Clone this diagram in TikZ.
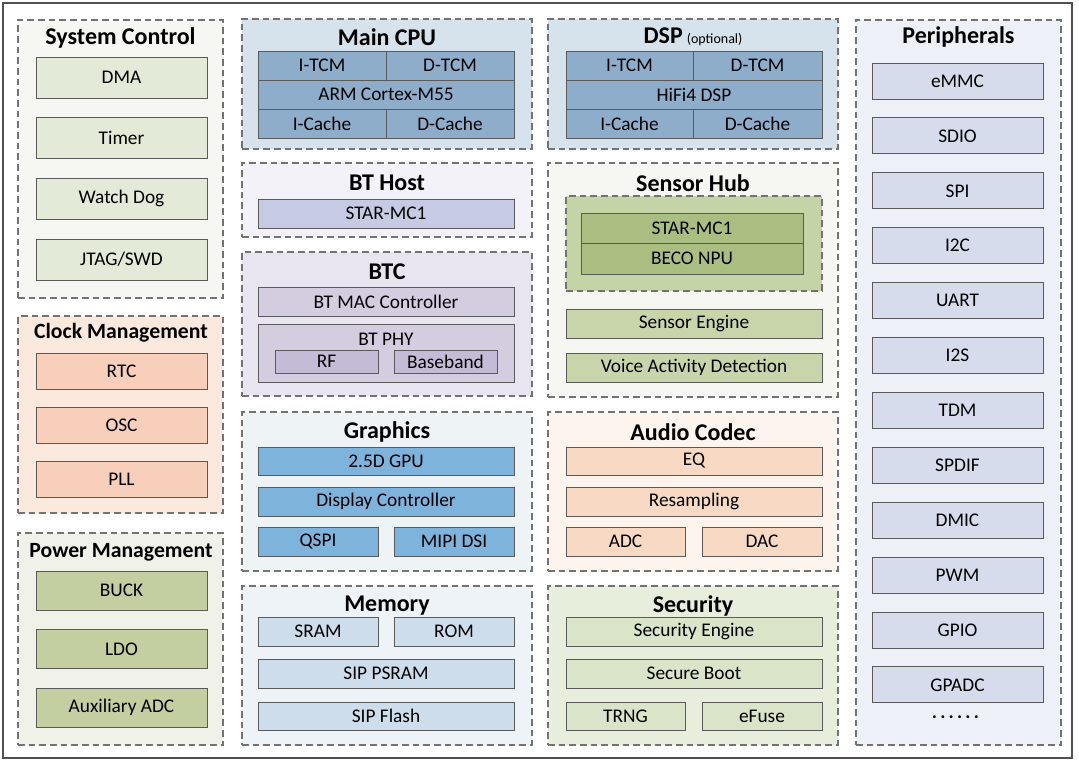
\documentclass[tikz,border=0pt]{standalone}
\usepackage{fontspec}
\setmainfont{Carlito}
\usepackage{tikz}
\usetikzlibrary{fit}
\definecolor{framegray}{RGB}{80,80,80}
\definecolor{dashgray}{RGB}{115,115,115}
\definecolor{boxgray}{RGB}{90,90,90}
\definecolor{scgrp}{RGB}{246,247,242}
\definecolor{scbox}{RGB}{227,234,216}
\definecolor{ckgrp}{RGB}{251,233,222}
\definecolor{ckbox}{RGB}{248,207,186}
\definecolor{pwgrp}{RGB}{240,242,234}
\definecolor{pwbox}{RGB}{196,207,161}
\definecolor{cpugrp}{RGB}{215,227,236}
\definecolor{cpubox}{RGB}{141,173,203}
\definecolor{hostgrp}{RGB}{242,242,248}
\definecolor{hostbox}{RGB}{198,203,227}
\definecolor{btcgrp}{RGB}{232,229,240}
\definecolor{btcbox}{RGB}{212,205,224}
\definecolor{phybox}{RGB}{196,187,214}
\definecolor{shgrp}{RGB}{246,247,242}
\definecolor{npugrp}{RGB}{196,212,166}
\definecolor{npubox}{RGB}{171,190,130}
\definecolor{shbox}{RGB}{200,213,171}
\definecolor{gfxgrp}{RGB}{238,243,246}
\definecolor{gfxbox}{RGB}{126,179,220}
\definecolor{audgrp}{RGB}{253,244,238}
\definecolor{audbox}{RGB}{248,218,196}
\definecolor{memgrp}{RGB}{238,243,248}
\definecolor{membox}{RGB}{206,221,236}
\definecolor{secgrp}{RGB}{231,238,219}
\definecolor{secbox}{RGB}{218,228,200}
\definecolor{pergrp}{RGB}{238,240,248}
\definecolor{perbox}{RGB}{214,220,236}

\begin{document}
\begin{tikzpicture}[x=0.75pt,y=-0.75pt,
  boxfont/.style={font=\fontsize{14.5}{16}\selectfont},
  grp/.style={draw=dashgray,line width=0.9pt,dash pattern=on 5pt off 3pt,inner sep=0pt},
  blk/.style={draw=boxgray,line width=0.7pt,inner sep=0pt,label={[boxfont,inner sep=0pt]center:#1}},
  txt/.style={boxfont,inner sep=0pt},
  ttl/.style={font=\fontsize{18}{20}\selectfont\bfseries,inner sep=0pt},
  ttlsm/.style={font=\fontsize{16.3}{18}\selectfont\bfseries,inner sep=0pt}]
\useasboundingbox (0,0) rectangle (1079,762);
\draw[framegray,line width=1.6pt] (3,3) rectangle (1072,758);

% column 1
\node[grp,fill=scgrp,fit={(18,20) (223,298)}] (sysctl) {};
\node[ttl] (sysctlt) at (120.5,38) {System Control};
\foreach \t [count=\i from 0] in {DMA,Timer,Watch Dog,JTAG/SWD}
  \node[blk=\t,fill=scbox,fit={(36,{57+\i*60.7}) (207,{98+\i*60.7})}] (sc\i) {};

\node[grp,fill=ckgrp,fit={(18,316) (223,513)}] (clk) {};
\node[ttlsm] (clkt) at (121,333) {Clock Management};
\foreach \t [count=\i from 0] in {RTC,OSC,PLL}
  \node[blk=\t,fill=ckbox,fit={(36,{353+\i*54.3}) (207,{389+\i*54.3})}] (ck\i) {};

\node[grp,fill=pwgrp,fit={(18,533) (223,745)}] (pwr) {};
\node[ttlsm] (pwrt) at (121,552) {Power Management};
\foreach \t [count=\i from 0] in {BUCK,LDO,Auxiliary ADC}
  \node[blk=\t,fill=pwbox,fit={(36,{571+\i*58.5}) (207,{610+\i*58.5})}] (pw\i) {};

% column 2
\node[grp,fill=cpugrp,fit={(242,19) (532,149)}] (cpu) {};
\node[ttl] (cput) at (387,37) {Main CPU};
\node[blk=I-TCM,fill=cpubox,fit={(258,51) (386,80)}] (itcm) {};
\node[blk=D-TCM,fill=cpubox,fit={(386,51) (514,80)}] (dtcm) {};
\node[blk=ARM Cortex-M55,fill=cpubox,fit={(258,80) (514,109)}] (m55) {};
\node[blk=I-Cache,fill=cpubox,fit={(258,109) (386,138)}] (icache) {};
\node[blk=D-Cache,fill=cpubox,fit={(386,109) (514,138)}] (dcache) {};

\node[grp,fill=hostgrp,fit={(242,163) (532,237)}] (host) {};
\node[ttl] (hostt) at (387,183) {BT Host};
\node[blk=STAR-MC1,fill=hostbox,fit={(258,199) (514,228)}] (hostmc) {};

\node[grp,fill=btcgrp,fit={(242,252) (532,396)}] (btc) {};
\node[ttl] (btct) at (387,272) {BTC};
\node[blk=BT MAC Controller,fill=btcbox,fit={(258,287) (514,316)}] (btmac) {};
\node[blk=,fill=btcbox,fit={(258,324) (514,382)}] (btphy) {};
\node[txt] (btphyt) at (386,339) {BT PHY};
\node[blk=RF,fill=phybox,fit={(275,350) (378,373)}] (rf) {};
\node[blk=Baseband,fill=phybox,fit={(394,350) (497,373)}] (bband) {};

\node[grp,fill=gfxgrp,fit={(242,412) (532,571)}] (gfx) {};
\node[ttl] (gfxt) at (387,432) {Graphics};
\node[blk=2.5D GPU,fill=gfxbox,fit={(258,447) (514,475)}] (gpu) {};
\node[blk=Display Controller,fill=gfxbox,fit={(258,487) (514,516)}] (disp) {};
\node[blk=QSPI,fill=gfxbox,fit={(258,527) (378,556)}] (qspi) {};
\node[blk=MIPI DSI,fill=gfxbox,fit={(394,527) (514,556)}] (mipi) {};

\node[grp,fill=memgrp,fit={(242,586) (532,745)}] (mem) {};
\node[ttl] (memt) at (387,606) {Memory};
\node[blk=SRAM,fill=membox,fit={(258,617) (378,646)}] (sram) {};
\node[blk=ROM,fill=membox,fit={(394,617) (514,646)}] (rom) {};
\node[blk=SIP PSRAM,fill=membox,fit={(258,659) (514,688)}] (psram) {};
\node[blk=SIP Flash,fill=membox,fit={(258,702) (514,730)}] (flash) {};

% column 3
\node[grp,fill=cpugrp,fit={(548,19) (838,149)}] (dsp) {};
\node[ttl] (dspt) at (693,37) {DSP\,{\normalfont\fontsize{10.5}{12}\selectfont (optional)}};
\node[blk=I-TCM,fill=cpubox,fit={(566,51) (693,80)}] (ditcm) {};
\node[blk=D-TCM,fill=cpubox,fit={(693,51) (822,80)}] (ddtcm) {};
\node[blk=HiFi4 DSP,fill=cpubox,fit={(566,80) (822,109)}] (hifi) {};
\node[blk=I-Cache,fill=cpubox,fit={(566,109) (693,138)}] (dicache) {};
\node[blk=D-Cache,fill=cpubox,fit={(693,109) (822,138)}] (ddcache) {};

\node[grp,fill=shgrp,fit={(548,163) (838,397)}] (shub) {};
\node[ttl] (shubt) at (693,183) {Sensor Hub};
\node[grp,fill=npugrp,fit={(566,196) (822,291)}] (npugrp) {};
\node[blk=STAR-MC1,fill=npubox,fit={(581,213) (803,243)}] (shmc) {};
\node[blk=BECO NPU,fill=npubox,fit={(581,243) (803,274)}] (npu) {};
\node[blk=Sensor Engine,fill=shbox,fit={(566,309) (822,338)}] (seng) {};
\node[blk=Voice Activity Detection,fill=shbox,fit={(566,353) (822,382)}] (vad) {};

\node[grp,fill=audgrp,fit={(548,412) (838,571)}] (aud) {};
\node[ttl] (audt) at (693,432) {Audio Codec};
\node[blk=EQ,fill=audbox,fit={(566,447) (822,475)}] (eq) {};
\node[blk=Resampling,fill=audbox,fit={(566,487) (822,516)}] (resmp) {};
\node[blk=ADC,fill=audbox,fit={(566,527) (685,556)}] (adc) {};
\node[blk=DAC,fill=audbox,fit={(702,527) (822,556)}] (dac) {};

\node[grp,fill=secgrp,fit={(548,586) (838,745)}] (sec) {};
\node[ttl] (sect) at (693,606) {Security};
\node[blk=Security Engine,fill=secbox,fit={(566,617) (822,646)}] (seceng) {};
\node[blk=Secure Boot,fill=secbox,fit={(566,659) (822,688)}] (sboot) {};
\node[blk=TRNG,fill=secbox,fit={(566,702) (685,730)}] (trng) {};
\node[blk=eFuse,fill=secbox,fit={(702,702) (822,730)}] (efuse) {};

% column 4
\node[grp,fill=pergrp,fit={(856,20) (1061,745)}] (per) {};
\node[ttl] (pert) at (958.5,37) {Peripherals};
\foreach \t [count=\i from 0] in {eMMC,SDIO,SPI,I2C,UART,I2S,TDM,SPDIF,DMIC,PWM,GPIO,GPADC}
  \node[blk=\t,fill=perbox,fit={(872,{63+\i*54.9}) (1043,{99+\i*54.9})}] (per\i) {};
\node[txt] (perdots) at (955.5,717) {\textbf{.\,.\,.\,.\,.\,.}};
\end{tikzpicture}
\end{document}
